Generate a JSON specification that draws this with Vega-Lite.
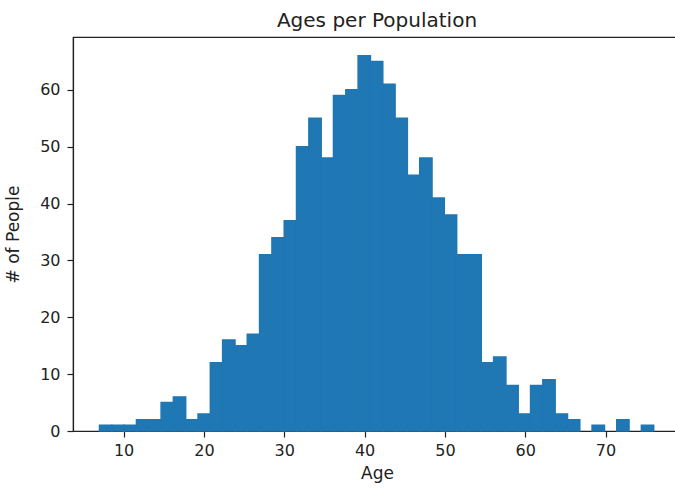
{
  "$schema": "https://vega.github.io/schema/vega-lite/v6.json",
  "width": 608,
  "height": 394,
  "autosize": {"type": "none"},
  "padding": {"left": 73, "top": 37, "right": 0, "bottom": 57},
  "background": "white",
  "title": {"text": "Ages per Population", "fontSize": 20, "font": "DejaVu Sans", "fontWeight": "normal", "color": "#222", "offset": 6},
  "data": {"values": [
    {"start": 7.00, "end": 8.53, "count": 1},
    {"start": 8.53, "end": 10.07, "count": 1},
    {"start": 10.07, "end": 11.60, "count": 1},
    {"start": 11.60, "end": 13.13, "count": 2},
    {"start": 13.13, "end": 14.67, "count": 2},
    {"start": 14.67, "end": 16.20, "count": 5},
    {"start": 16.20, "end": 17.73, "count": 6},
    {"start": 17.73, "end": 19.27, "count": 2},
    {"start": 19.27, "end": 20.80, "count": 3},
    {"start": 20.80, "end": 22.33, "count": 12},
    {"start": 22.33, "end": 23.87, "count": 16},
    {"start": 23.87, "end": 25.40, "count": 15},
    {"start": 25.40, "end": 26.93, "count": 17},
    {"start": 26.93, "end": 28.47, "count": 31},
    {"start": 28.47, "end": 30.00, "count": 34},
    {"start": 30.00, "end": 31.53, "count": 37},
    {"start": 31.53, "end": 33.07, "count": 50},
    {"start": 33.07, "end": 34.60, "count": 55},
    {"start": 34.60, "end": 36.13, "count": 48},
    {"start": 36.13, "end": 37.67, "count": 59},
    {"start": 37.67, "end": 39.20, "count": 60},
    {"start": 39.20, "end": 40.73, "count": 66},
    {"start": 40.73, "end": 42.27, "count": 65},
    {"start": 42.27, "end": 43.80, "count": 61},
    {"start": 43.80, "end": 45.33, "count": 55},
    {"start": 45.33, "end": 46.87, "count": 45},
    {"start": 46.87, "end": 48.40, "count": 48},
    {"start": 48.40, "end": 49.93, "count": 41},
    {"start": 49.93, "end": 51.47, "count": 38},
    {"start": 51.47, "end": 53.00, "count": 31},
    {"start": 53.00, "end": 54.53, "count": 31},
    {"start": 54.53, "end": 56.07, "count": 12},
    {"start": 56.07, "end": 57.60, "count": 13},
    {"start": 57.60, "end": 59.13, "count": 8},
    {"start": 59.13, "end": 60.67, "count": 3},
    {"start": 60.67, "end": 62.20, "count": 8},
    {"start": 62.20, "end": 63.73, "count": 9},
    {"start": 63.73, "end": 65.27, "count": 3},
    {"start": 65.27, "end": 66.80, "count": 2},
    {"start": 66.80, "end": 68.33, "count": 0},
    {"start": 68.33, "end": 69.87, "count": 1},
    {"start": 69.87, "end": 71.40, "count": 0},
    {"start": 71.40, "end": 72.93, "count": 2},
    {"start": 72.93, "end": 74.47, "count": 0},
    {"start": 74.47, "end": 76.00, "count": 1}
  ]},
  "transform": [{"filter": "datum.count > 0"}],
  "mark": {"type": "bar", "color": "#1f77b4", "stroke": "#1f77b4", "strokeWidth": 1.5},
  "encoding": {
    "x": {
      "field": "start",
      "type": "quantitative",
      "scale": {"domain": [3.7, 79.4], "nice": false, "zero": false},
      "axis": {"values": [10, 20, 30, 40, 50, 60, 70], "title": "Age", "labelPadding": 5, "titlePadding": 7}
    },
    "x2": {"field": "end"},
    "y": {
      "field": "count",
      "type": "quantitative",
      "scale": {"domain": [0, 69.3], "nice": false},
      "axis": {"values": [0, 10, 20, 30, 40, 50, 60], "title": "# of People", "labelPadding": 7, "titlePadding": 17}
    },
    "y2": {"datum": 0}
  },
  "config": {
    "view": {"stroke": "#222", "strokeWidth": 1.2},
    "axis": {
      "grid": false,
      "domainColor": "#222",
      "domainWidth": 1.2,
      "tickColor": "#222",
      "tickSize": 6,
      "tickWidth": 1.2,
      "labelFont": "DejaVu Sans",
      "labelFontSize": 16,
      "labelColor": "#222",
      "titleFont": "DejaVu Sans",
      "titleFontSize": 17,
      "titleFontWeight": "normal",
      "titleColor": "#222",
      "labelFlush": false,
      "labelOverlap": false
    }
  }
}
